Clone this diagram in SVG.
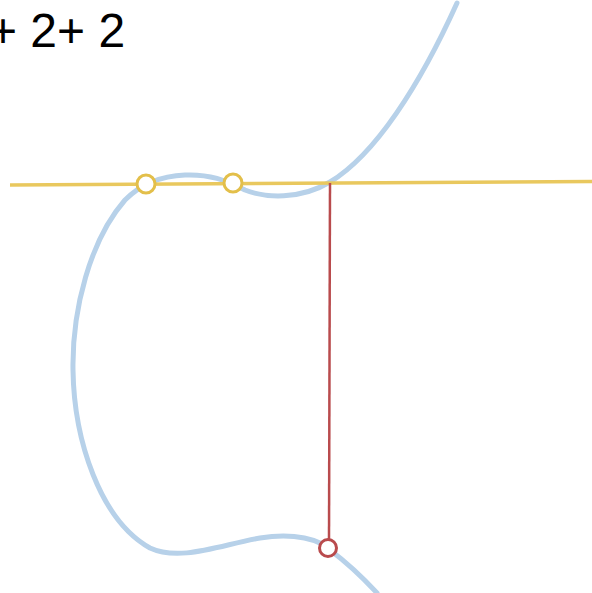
<svg xmlns="http://www.w3.org/2000/svg" width="592" height="593" viewBox="0 0 592 593">
<style>
.curve{fill:none;stroke:#b7d1e9;stroke-width:5;stroke-linecap:round}
.line{fill:none;stroke:#e9c85e;stroke-width:3.5}
.vert{fill:none;stroke:#b94b4d;stroke-width:2.5}
.pt{fill:#ffffff;stroke-width:3}
.y{stroke:#e3bf4a}
.r{stroke:#b94b4d}
.lbl{font-family:"Liberation Sans",Arial,sans-serif;font-size:48px;fill:#000}
</style>
<rect width="592" height="593" fill="#ffffff"/>
<text class="lbl" x="-11" y="47">+ 2+ 2</text>
<path id="curve" class="curve" d="M457 3 C420 85 375 155 330 182 C300 200 265 198 245 190 C225 180 210 174 185 175 C160 176 140 185 125 200 C90 240 72 310 73 370 C74 440 100 520 150 548 C180 562 220 545 260 538 C295 532 320 540 330 550 C350 565 365 580 377 593"/>
<path id="secant" class="line" d="M10 185 L592 181.5"/>
<g id="connectors">
<path class="vert" d="M330 183 L329 540"/>
</g>
<g id="p1"><circle class="pt y" cx="146" cy="184" r="9"/></g>
<g id="p2"><circle class="pt y" cx="233" cy="183" r="9"/></g>
<g id="p3"><circle class="pt r" cx="328" cy="548" r="8.5"/></g>
</svg>
